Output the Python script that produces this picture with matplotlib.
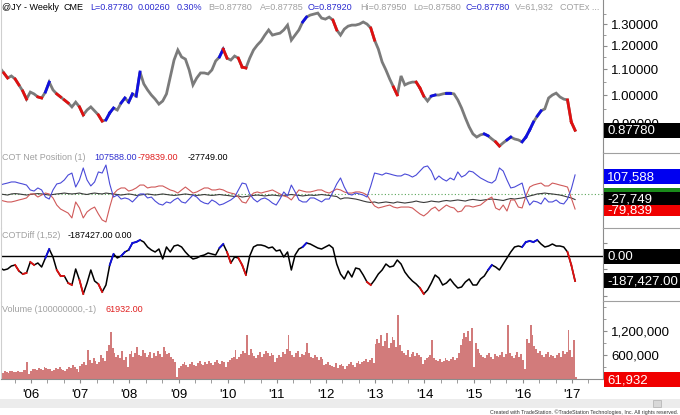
import numpy as np
import matplotlib
matplotlib.use('Agg')
import matplotlib.pyplot as plt
from matplotlib.patches import Rectangle
from matplotlib.lines import Line2D
from matplotlib.ticker import FixedLocator, NullFormatter
from matplotlib.transforms import IdentityTransform

plt.rcParams['font.family'] = ['Liberation Sans', 'DejaVu Sans']

# ---------------- data ----------------
START = 2005.37          # decimal year of first weekly bar shown
STEP4 = 4 / 52           # sampling step of the line series (4 weeks)
STEP2 = 2 / 52           # sampling step of the volume series (2 weeks)

price = [1.105, 1.085, 1.065, 1.073, 1.061, 1.038, 1.015, 0.985, 1.011, 1.004,
         0.993, 0.989, 1.011, 1.049, 1.019, 1.004, 0.993, 0.982, 0.971, 0.957,
         0.974, 0.957, 0.929, 0.946, 0.957, 0.943, 0.929, 0.908, 0.912, 0.936,
         0.953, 0.946, 0.971, 0.989, 0.974, 1.004, 0.996, 1.089, 1.042, 1.019,
         1.000, 0.985, 0.967, 0.978, 1.004, 1.069, 1.138, 1.181, 1.151, 1.142,
         1.097, 1.038, 1.065, 1.085, 1.085, 1.081, 1.097, 1.134, 1.151, 1.185,
         1.146, 1.138, 1.155, 1.146, 1.109, 1.105, 1.146, 1.181, 1.203, 1.221,
         1.248, 1.272, 1.248, 1.253, 1.257, 1.272, 1.295, 1.225, 1.248, 1.272,
         1.310, 1.334, 1.344, 1.349, 1.354, 1.329, 1.324, 1.334, 1.319, 1.272,
         1.248, 1.276, 1.290, 1.295, 1.295, 1.300, 1.310, 1.300, 1.281, 1.225,
         1.185, 1.130, 1.097, 1.061, 1.030, 1.000, 1.073, 1.038, 1.045, 1.049,
         1.049, 1.026, 0.996, 0.978, 0.996, 1.000, 1.000, 1.004, 1.007, 1.007,
         1.004, 0.982, 0.953, 0.919, 0.889, 0.866, 0.856, 0.863, 0.866, 0.860,
         0.850, 0.841, 0.828, 0.838, 0.847, 0.856, 0.850, 0.847, 0.841, 0.856,
         0.879, 0.905, 0.925, 0.943, 0.950, 0.989, 1.000, 1.007, 0.993, 0.985,
         0.982, 0.905, 0.8778]

# COT net positions, thousands of contracts
cot_blue = [52, 58, 63, 69, 69, 63, 58, 52, 25, 19,
            36, 25, -14, -25, 25, 58, 63, 80, 107, 118,
            41, 80, 146, 80, 47, 69, 124, 118, 162, 58,
            -14, -3, -25, -19, -25, -41, -19, 3, 3, -19,
            -14, -36, -52, -58, -41, -47, -30, -19, -41, -47,
            -25, -3, -14, -36, -47, -52, -30, -41, -58, -52,
            -41, -30, -14, 25, 63, 58, 3, -25, -41, -25,
            -19, -30, -47, -58, -25, 14, -8, 52, 14, -30,
            -41, -41, -19, -19, -30, -41, -25, -25, 14, 58,
            91, 41, 3, -3, 8, 3, -3, -14, 47, 118,
            113, 107, 118, 113, 107, 102, 102, 113, 107, 96,
            107, 129, 151, 157, 129, 80, 102, 85, 74, 91,
            80, 124, 96, 107, 129, 124, 107, 91, 80, 69,
            63, 80, 146, 129, 80, 36, 41, 52, 63, -14,
            -58, -36, -41, -52, -19, -41, -41, -30, -47, -52,
            -25, 30, 107.588]

cot_red = [-30, -36, -41, -41, -36, -30, -25, -19, 3, 3,
           -14, -3, 8, 3, -19, -58, -80, -91, -102, -129,
           -41, -74, -129, -96, -80, -69, -107, -140, -151, -69,
           3, 25, 36, 36, 19, 25, 36, 52, 52, 36,
           41, 41, 47, 47, 36, 25, 19, 8, 25, 41,
           25, 8, 14, 25, 36, 36, 25, 25, 30, 25,
           14, 8, 3, -14, -41, -47, -14, 8, 14, 8,
           14, 19, 25, 14, 3, -8, -14, -30, -3, 25,
           19, 14, 14, 19, 25, 25, 14, 8, 19, 30,
           25, 14, 8, 8, 14, 14, 8, -3, -36, -63,
           -74, -69, -63, -58, -69, -74, -69, -69, -69, -74,
           -91, -107, -118, -102, -80, -69, -91, -74, -58, -69,
           -74, -96, -91, -63, -63, -69, -63, -58, -41, -25,
           -14, -74, -85, -58, -91, -30, -30, -69, -74, -8,
           41, 52, 58, 63, 47, 47, 63, 58, 52, 47,
           41, -19, -79.839]

cot_black = [3, 0, -3, 3, 5, 3, 0, -3, 0, 3, 5, 3, 0, -3, 0, 3, 5, 8, 5, 3,
             5, 8, 3, 0, 5, 8, 5, 3, 8, 5,
             3, 0, -3, 0, 3, 0, -5, -3, 0, 3, 0, -3, 0, 3, 0, -3, -5, -3, 0, 3,
             0, -3, -5, -3, 0, -3, -5, -3, 0, -3,
             -5, -8, -11, -8, -14, -11, -8, -5, -3, -5, -8, -5, -3, -5, -8, -5, -3, 0, -3, -5,
             -8, -5, -3, -5, -3, 0, -3, -5, -8, -11,
             -25, -19, -19, -22, -25, -30, -36, -41, -44, -41, -47, -44, -41, -44, -47, -41,
             -44, -47, -44, -41, -36, -41, -44, -41, -36, -39, -41, -36, -33, -36,
             -33, -30, -33, -36, -30, -27, -30, -33, -30, -27, -25, -27, -30, -33, -27, -22,
             -25, -22, -19, -14,
             -8, -3, 3, 5, 8, 5, 3, 0, -3, -8, -14, -19, -27.749]

# COTDiff (1,52), thousands
cotdiff = [-90, -105, -97.5, -75, -67.5, -112.5, -135, -127.5, -45, -67.5,
           -52.5, -82.5, -15, 52.5, -7.5, -105, -150, -150, -202.5, -217.5,
           -97.5, -180, -285, -202.5, -105, -187.5, -210, -270, -217.5, -67.5,
           15, -15, 0, 30, 45, 97.5, 105, 120, 105, 67.5,
           45, 30, 52.5, -22.5, 67.5, 30, 75, 82.5, 67.5, 30,
           0, -22.5, -15, 0, 7.5, 22.5, 15, 7.5, 60, 90,
           30, -52.5, -7.5, -15, -67.5, -142.5, 0, 67.5, 82.5, 82.5,
           75, 60, 67.5, 37.5, 45, -7.5, 30, -105, 7.5, 52.5,
           67.5, 97.5, 90, 75, 60, 52.5, 67.5, 82.5, 60, -60,
           -135, -172.5, -112.5, -157.5, -90, -97.5, -142.5, -195, -217.5, -180,
           -135, -105, -60, -82.5, -75, -30, -60, -120, -157.5, -187.5,
           -210, -240, -285, -255, -202.5, -142.5, -165, -217.5, -202.5, -172.5,
           -210, -240, -232.5, -195, -172.5, -217.5, -217.5, -172.5, -150, -105,
           -67.5, -82.5, -105, -60, -15, 30, 67.5, 75, 67.5, 105,
           112.5, 105, 120, 90, 67.5, 75, 90, 75, 75, 67.5,
           30, -67.5, -187.427]

# bar colouring signals (indices of the 4-week samples)
price_blue = [13, 29, 30, 33, 35, 37, 59, 81, 115, 119, 129, 135, 139, 140, 141, 143]
price_red = [2, 5, 7, 11, 16, 18, 22, 27, 60, 64, 65, 89, 99, 105, 111, 112, 132, 151, 152]
diff_blue = [13, 30, 33, 35, 36, 37, 59, 81, 130, 139, 140, 141, 142]
diff_red = [5, 7, 9, 16, 17, 19, 22, 27, 61, 64, 65, 98, 112, 151, 152]

# volume, thousands of contracts, every 2 weeks
volume = ([180, 160, 200, 175, 150, 190, 210, 175, 165, 200, 185, 175, 215, 230, 420, 120] +
          [200, 240, 260, 230, 280, 250, 220, 300, 270, 240, 260, 210, 230, 280, 250, 300, 260, 230, 210, 250, 300, 280, 340, 300, 260, 180] +
          [320, 380, 420, 360, 730, 480, 400, 520, 450, 380, 430, 600, 520, 460, 700, 850, 1180, 780, 650, 560, 600, 520, 700, 480, 550, 300] +
          [620, 700, 560, 650, 800, 600, 580, 720, 640, 560, 600, 680, 520, 640, 580, 700, 620, 560, 800, 700, 620, 660, 560, 500, 420, 60] +
          [280, 330, 380, 420, 350, 300, 380, 420, 360, 330, 400, 450, 380, 350, 420, 380, 450, 400, 360, 420, 470, 400, 380, 450, 420, 300] +
          [420, 480, 520, 560, 730, 500, 560, 620, 700, 640, 1100, 600, 760, 640, 580, 520, 600, 680, 560, 620, 700, 640, 580, 660, 600, 420] +
          [520, 600, 560, 680, 620, 760, 1100, 700, 600, 560, 640, 700, 560, 620, 600, 680, 900, 640, 560, 520, 600, 540, 480, 560, 500, 350] +
          [380, 420, 350, 320, 300, 400, 280, 350, 380, 320, 260, 330, 380, 420, 360, 300, 400, 440, 380, 420, 460, 500, 420, 480, 520, 400] +
          [880, 1000, 900, 1100, 820, 950, 1150, 780, 900, 1050, 980, 800, 1600, 850, 700, 640, 600, 720, 560, 620, 680, 580, 640, 600, 560, 380] +
          [480, 520, 560, 600, 975, 520, 480, 450, 500, 420, 460, 520, 480, 440, 500, 560, 480, 520, 650, 850, 1000, 1150, 1050, 1200, 950, 1270] +
          [300, 900, 750, 650, 600, 560, 520, 600, 650, 560, 500, 620, 580, 540, 600, 680, 560, 620, 1350, 640, 580, 520, 600, 680, 560, 620] +
          [480, 250, 1000, 900, 1350, 1100, 820, 760, 640, 700, 600, 560, 620, 680, 540, 600, 580, 520, 600, 640, 560, 700, 620, 680, 1220, 720] +
          [550, 975, 61.932])

year_ticks = [2006, 2007, 2008, 2009, 2010, 2011, 2012, 2013, 2014, 2015, 2016, 2017]
year_labels = ["'06", "'07", "'08", "'09", "'10", "'11", "'12", "'13", "'14", "'15", "'16", "'17"]

price_ticks = [0.9, 1.0, 1.1, 1.2, 1.3]
vol_ticks = [600000, 1200000]

# ---------------- derived arrays ----------------
price = np.array(price)
cot_blue = np.array(cot_blue) * 1000
cot_red = np.array(cot_red) * 1000
cot_black = np.array(cot_black) * 1000
cotdiff = np.array(cotdiff) * 1000
volume = np.array(volume) * 1000
d4 = START + np.arange(len(price)) * STEP4
d2 = START + np.arange(len(volume)) * STEP2

# ---------------- figure ----------------
W, H = 680, 415
fig = plt.figure(figsize=(W / 100, H / 100), dpi=100)
fig.patch.set_facecolor('white')
XMIN, XMAX = 2005.39, 2017.63
GRAY = '#8c8c8c'
X0, X1 = 1, 603


def panel(top, bottom):
    ax = fig.add_axes([X0 / W, 1 - bottom / H, (X1 - X0) / W, (bottom - top) / H])
    ax.set_facecolor('none')
    ax.spines['top'].set_visible(False)
    ax.spines['bottom'].set_visible(False)
    ax.spines['left'].set_color('#cfcfcf')
    ax.spines['right'].set_color(GRAY)
    ax.yaxis.tick_right()
    ax.tick_params(axis='y', which='both', direction='out', length=3, color=GRAY,
                   labelsize=9.5, pad=3, labelcolor='black')
    ax.tick_params(axis='y', which='minor', length=2)
    ax.tick_params(axis='x', which='both', bottom=False, labelbottom=False)
    ax.set_xlim(XMIN, XMAX)
    return ax


# price panel
ax1 = panel(0, 152)
ax1.set_yscale('log')
ax1.set_ylim(0.810, 1.421)
ax1.plot(d4, price, color='#7b7b7b', lw=2.0, solid_joinstyle='miter')
for k in price_blue:
    ax1.plot(d4[k - 1:k + 1], price[k - 1:k + 1], color='#1010e0', lw=2)
for k in price_red:
    ax1.plot(d4[k - 1:k + 1], price[k - 1:k + 1], color='#e01010', lw=2)
ax1.yaxis.set_major_locator(FixedLocator(price_ticks))
ax1.set_yticklabels([f'{t:.5f}' for t in price_ticks])
ax1.yaxis.set_minor_locator(FixedLocator([t + 0.05 for t in price_ticks]))
ax1.yaxis.set_minor_formatter(NullFormatter())

# COT panel
ax2 = panel(152, 228)
ax2.set_ylim(-184250, 233750)
ax2.axhline(0, color='#5aa55a', lw=0.8, ls=(0, (1, 2)))
ax2.plot(d4, cot_black, color='#3a3a3a', lw=0.8)
ax2.plot(d4, cot_red, color='#d05a5a', lw=0.8)
ax2.plot(d4, cot_blue, color='#4a4ad8', lw=0.8)
ax2.yaxis.set_major_locator(FixedLocator([-100000, 0, 100000]))
ax2.tick_params(axis='y', labelright=False)

# COTDiff panel
ax3 = panel(228, 302)
ax3.set_ylim(-345000, 210000)
ax3.axhline(0, color='black', lw=1.0)
ax3.plot(d4, cotdiff, color='black', lw=1.1)
for k in diff_blue:
    ax3.plot(d4[k - 1:k + 1], cotdiff[k - 1:k + 1], color='#1010e0', lw=1.3)
for k in diff_red:
    ax3.plot(d4[k - 1:k + 1], cotdiff[k - 1:k + 1], color='#e01010', lw=1.3)
ax3.yaxis.set_major_locator(FixedLocator([-300000, -200000, -100000, 0, 100000]))
ax3.tick_params(axis='y', labelright=False)

# volume panel
ax4 = panel(302, 379)
ax4.set_ylim(0, 1925000)
ax4.bar(d2, volume, width=STEP2, color='#d27b7b', edgecolor='none', align='edge')
ax4.yaxis.set_major_locator(FixedLocator(vol_ticks))
ax4.set_yticklabels([f'{t:,}' for t in vol_ticks])
ax4.yaxis.set_minor_locator(FixedLocator([300000, 900000, 1500000, 1800000]))
ax4.yaxis.set_minor_formatter(NullFormatter())
ax4.spines['bottom'].set_visible(True)
ax4.spines['bottom'].set_color(GRAY)
ax4.set_xticks(year_ticks)
ax4.set_xticklabels(year_labels)
ax4.xaxis.set_minor_locator(FixedLocator([y + f for y in range(2005, 2018) for f in (1 / 3, 2 / 3)]))
ax4.tick_params(axis='x', which='both', bottom=True, labelbottom=True, direction='out',
                length=3, color=GRAY, labelsize=9.5, pad=4)

# separators on the right scale area
for yp in (153, 228, 301):
    fig.add_artist(Line2D([X1 / W, 1], [1 - yp / H] * 2, color='#a0a0a0', lw=0.8))

# value boxes on the right scale
def value_box(ax, value, label, face, shift=0.0, h=15, z=10, text_color='white'):
    y = ax.transData.transform((XMIN, value))[1] + shift
    fig.add_artist(Rectangle((604, y - h / 2), 76, h, transform=IdentityTransform(),
                             facecolor=face, edgecolor='none', zorder=z))
    if label:
        fig.text(607, y - 0.5, label, transform=IdentityTransform(), color=text_color,
                 fontsize=9.5, va='center', ha='left', zorder=z + 0.5)


value_box(ax1, price[-1], '0.87780', 'black')
value_box(ax2, cot_blue[-1], '107,588', '#0000f0', shift=-2)
value_box(ax2, cot_black[-1], '-27,749', 'black', shift=1, h=13, z=11)
value_box(ax2, 0, '', '#1a8a1a', shift=4.5, h=4, z=12)
value_box(ax2, cot_red[-1], '-79,839', '#f00000', shift=-1, h=11, z=13)
value_box(ax3, 0, '0.00', 'black')
value_box(ax3, cotdiff[-1], '-187,427.00', 'black')
value_box(ax4, volume[-1], '61,932', '#f00000', shift=-3)

# header and panel captions
def txt(x, y, s, color, size=6.5):
    fig.text(x / W, 1 - y / H, s, color=color, fontsize=size, va='center', ha='left')


BL, GR = '#2a2ad0', '#a0a0a0'
txt(2, 7, '@JY - Weekly', 'black')
txt(63, 7, 'CME', 'black')
txt(90, 7, 'L=0.87780', BL)
txt(138, 7, '0.00260', BL)
txt(177, 7, '0.30%', BL)
txt(208, 7, 'B=0.87780', GR)
txt(260, 7, 'A=0.87785', GR)
txt(308, 7, 'O=0.87920', BL)
txt(360, 7, 'Hi=0.87950', GR)
txt(413, 7, 'Lo=0.87580', GR)
txt(465, 7, 'C=0.87780', BL)
txt(515, 7, 'V=61,932', GR)
txt(560, 7, 'COTEx ...', GR)

txt(2, 157, 'COT Net Position (1)', GR)
txt(94, 157, '107588.00', '#3030d0')
txt(138, 157, '-79839.00', '#e02020')
txt(188, 157, '-27749.00', 'black')

txt(2, 235, 'COTDiff (1,52)', GR)
txt(68, 235, '-187427.00', 'black')
txt(115, 235, '0.00', 'black')

txt(2, 309, 'Volume (100000000,-1)', GR)
txt(105, 309, '61932.00', '#e02020')

# scrollbar band and footer
fig.add_artist(Rectangle((0, 1 - 408 / H), 1, 9 / H, transform=fig.transFigure,
                         facecolor='#ececec', edgecolor='none', zorder=1))
fig.add_artist(Rectangle((653 / W, 1 - 407 / H), 8 / W, 7 / H, transform=fig.transFigure,
                         facecolor='#d8d8d8', edgecolor='#b0b0b0', lw=0.5, zorder=2))
fig.text(678 / W, 1 - 412 / H, 'Created with TradeStation. \u00a9TradeStation Technologies, Inc. All rights reserved.',
         fontsize=3.8, color='#333333', ha='right', va='center')

fig.savefig('out.png', dpi=100, facecolor='white')
